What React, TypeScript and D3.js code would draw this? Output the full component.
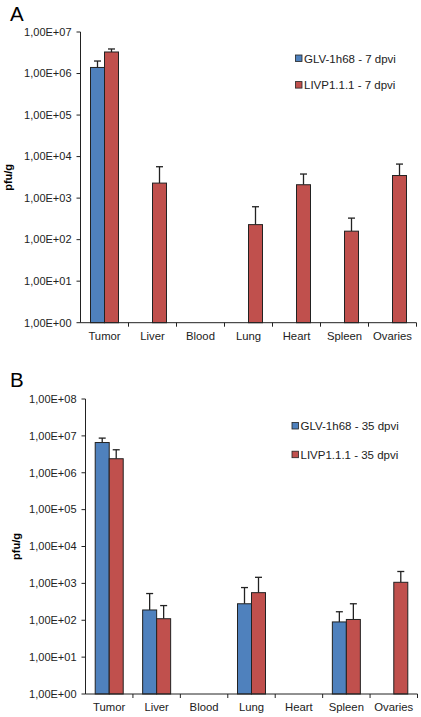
import React from "react";
import * as d3 from "d3";

const categories = ["Tumor", "Liver", "Blood", "Lung", "Heart", "Spleen", "Ovaries"];

const seriesA = ["GLV-1h68 - 7 dpvi", "LIVP1.1.1 - 7 dpvi"];
const blueA: (number | null)[] = [1.4e6, null, null, null, null, null, null];
const blueErrA: (number | null)[] = [6e5, null, null, null, null, null, null];
const redA: (number | null)[] = [3.3e6, 2.3e3, null, 2.3e2, 2.1e3, 1.6e2, 3.5e3];
const redErrA: (number | null)[] = [6e5, 3.4e3, null, 3.9e2, 1.7e3, 1.7e2, 3.1e3];
const ticksA = [1, 10, 100, 1e3, 1e4, 1e5, 1e6, 1e7];

const seriesB = ["GLV-1h68 - 35 dpvi", "LIVP1.1.1 - 35 dpvi"];
const blueB: (number | null)[] = [6.6e6, 1.9e2, null, 2.8e2, null, 9.0e1, null];
const blueErrB: (number | null)[] = [2.1e6, 3.4e2, null, 4.9e2, null, 8e1, null];
const redB: (number | null)[] = [2.4e6, 1.1e2, null, 5.6e2, null, 1.05e2, 1.07e3];
const redErrB: (number | null)[] = [1.8e6, 1.4e2, null, 9e2, null, 1.75e2, 1.03e3];
const ticksB = [1, 10, 100, 1e3, 1e4, 1e5, 1e6, 1e7, 1e8];

const COLORS = ["#4F81BD", "#C0504D"];
const DARK = "#222";
const FONT = "Liberation Sans, Arial, sans-serif";

function fmt(v: number) {
  const e = Math.round(Math.log10(v));
  return "1,00E+" + String(e).padStart(2, "0");
}

type PanelProps = {
  letter: string;
  letterY: number;
  axisX: number;
  right: number;
  top: number;
  bottom: number;
  ticks: number[];
  series: string[];
  values: (number | null)[][];
  errors: (number | null)[][];
  legendX: number;
  legendY: number;
  legendGap: number;
  ylabelX: number;
};

function Panel(p: PanelProps) {
  const y = d3.scaleLog().domain([p.ticks[0], p.ticks[p.ticks.length - 1]]).range([p.bottom, p.top]);
  const x = d3.scaleBand().domain(categories).range([p.axisX, p.right]);
  const bw = x.bandwidth();
  const xs = d3.scaleBand().domain(p.series).range([bw / 2 - 14, bw / 2 + 14]);
  const boundaries = categories.map((c) => (x(c) as number) + bw);
  return (
    <g>
      <text x={10} y={p.letterY} fontSize={20.5} fontFamily={FONT} fill="#000">{p.letter}</text>
      {/* bars */}
      {p.series.map((s, si) =>
        categories.map((c, ci) => {
          const v = p.values[si][ci];
          if (v == null) return null;
          const bx = (x(c) as number) + (xs(s) as number);
          const w = xs.bandwidth();
          const err = p.errors[si][ci];
          const cx = bx + w / 2;
          return (
            <g key={s + c}>
              {err != null && (
                <g stroke={DARK} strokeWidth={1.3}>
                  <line x1={cx} x2={cx} y1={y(v)} y2={y(v + err)} />
                  <line x1={cx - 3.5} x2={cx + 3.5} y1={y(v + err)} y2={y(v + err)} />
                </g>
              )}
              <rect x={bx} y={y(v)} width={w} height={p.bottom - y(v)} fill={COLORS[si]} stroke={DARK} strokeWidth={1} />
            </g>
          );
        })
      )}
      {/* y axis */}
      <line x1={p.axisX} x2={p.axisX} y1={p.top} y2={p.bottom} stroke={DARK} strokeWidth={1} />
      {p.ticks.map((t) => (
        <g key={t}>
          <line x1={p.axisX - 4} x2={p.axisX} y1={y(t)} y2={y(t)} stroke={DARK} strokeWidth={1} />
          <text x={p.axisX - 9} y={y(t)} dy="0.35em" textAnchor="end" fontSize={11} fontFamily={FONT} fill="#222">{fmt(t)}</text>
        </g>
      ))}
      {/* x axis */}
      <line x1={p.axisX} x2={p.right} y1={p.bottom} y2={p.bottom} stroke={DARK} strokeWidth={1} />
      {boundaries.map((b, i) => (
        <line key={i} x1={b} x2={b} y1={p.bottom} y2={p.bottom + 4} stroke={DARK} strokeWidth={1} />
      ))}
      {categories.map((c) => (
        <text key={c} x={(x(c) as number) + bw / 2} y={p.bottom + 17} textAnchor="middle" fontSize={11.3} fontFamily={FONT} fill="#222">{c}</text>
      ))}
      {/* y label */}
      <text transform={`translate(${p.ylabelX},${(p.top + p.bottom) / 2}) rotate(-90)`} textAnchor="middle" fontSize={11} fontWeight="bold" fontFamily={FONT} fill="#000">pfu/g</text>
      {/* legend */}
      {p.series.map((s, si) => (
        <g key={s}>
          <rect x={p.legendX} y={p.legendY + si * p.legendGap - 7.5} width={6.5} height={6.5} fill={COLORS[si]} stroke={DARK} strokeWidth={0.8} />
          <text x={p.legendX + 8.5} y={p.legendY + si * p.legendGap} fontSize={11.5} fontFamily={FONT} fill="#222">{s}</text>
        </g>
      ))}
    </g>
  );
}

export default function App() {
  return (
    <svg width={421} height={717} style={{ position: "absolute", left: 0, top: 0, background: "#fff" }}>
      <rect width={421} height={717} fill="#fff" />
      <Panel
        letter="A" letterY={20.5}
        axisX={80.5} right={416.5} top={32} bottom={322.7}
        ticks={ticksA} series={seriesA}
        values={[blueA, redA]} errors={[blueErrA, redErrA]}
        legendX={295.5} legendY={62.5} legendGap={26.6} ylabelX={12}
      />
      <Panel
        letter="B" letterY={387}
        axisX={85.5} right={417.5} top={399} bottom={694}
        ticks={ticksB} series={seriesB}
        values={[blueB, redB]} errors={[blueErrB, redErrB]}
        legendX={292} legendY={430} legendGap={28.7} ylabelX={20}
      />
    </svg>
  );
}
